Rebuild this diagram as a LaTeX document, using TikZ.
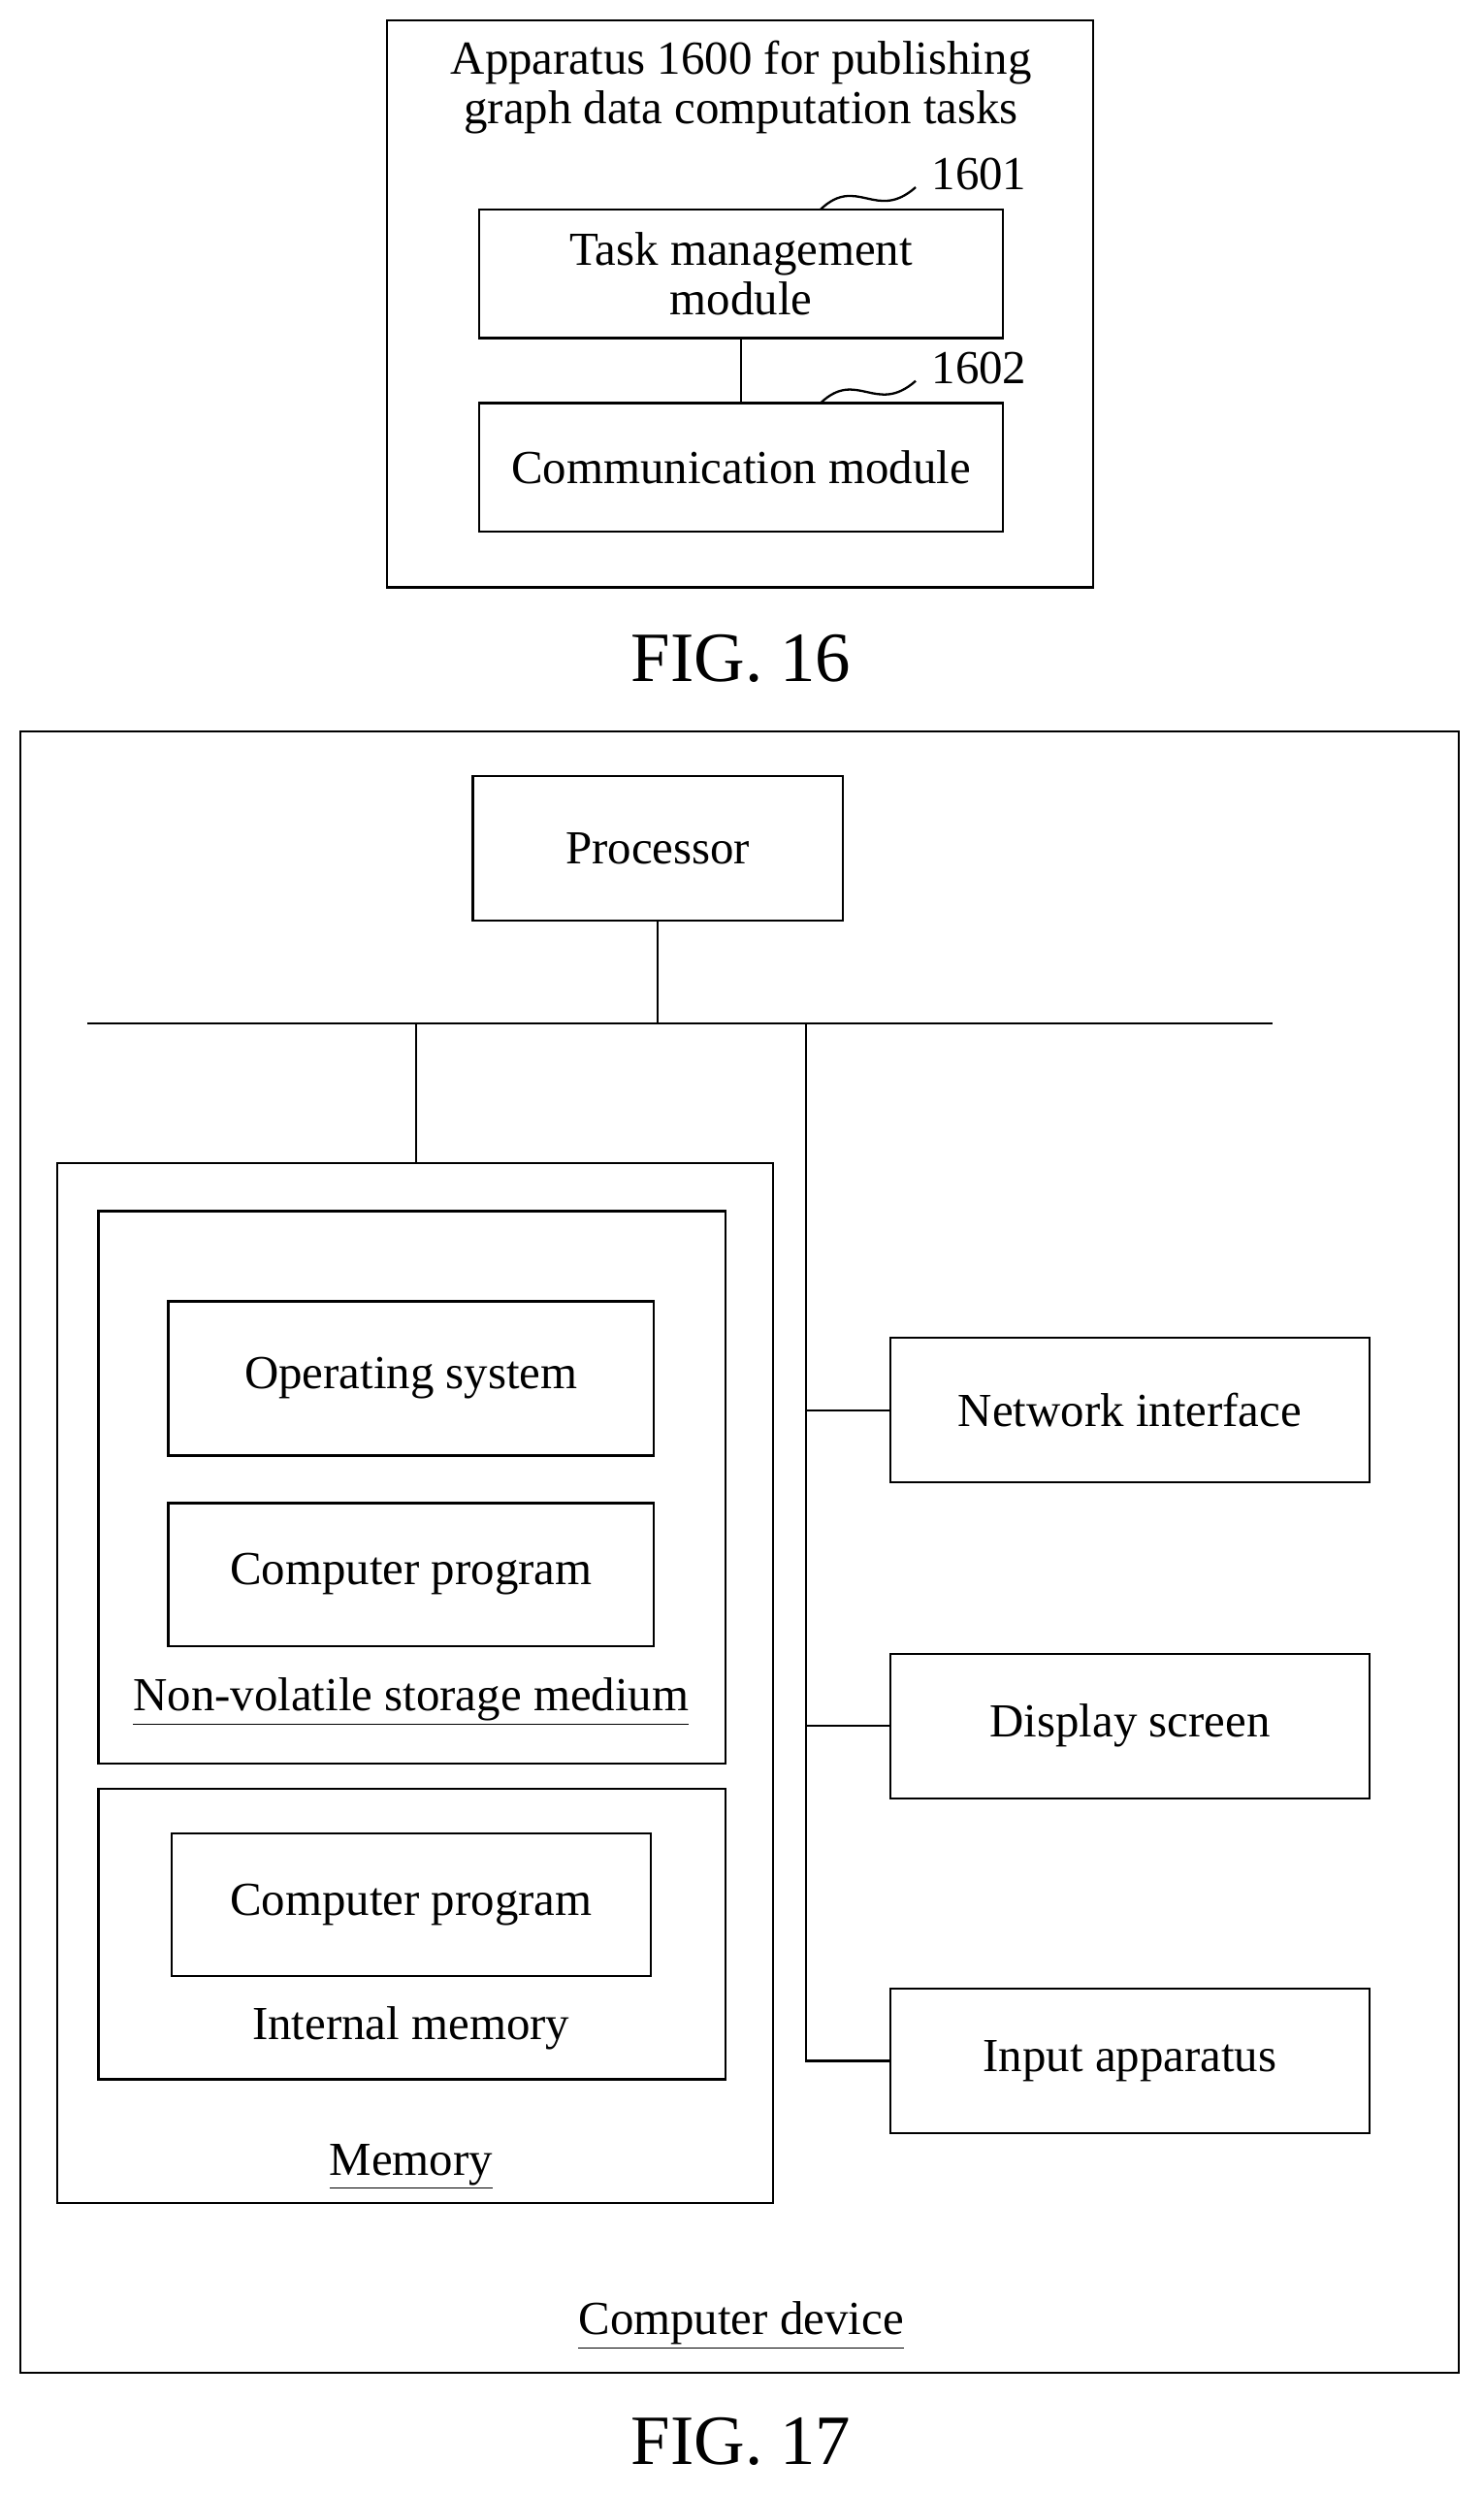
\documentclass[tikz,border=0pt]{standalone}
\usepackage{fontspec}
\setmainfont{Liberation Serif}
\usetikzlibrary{positioning}
\tikzset{
  box/.style={draw, line width=1.2pt, minimum width=#1, inner sep=0pt, align=center},
  txt/.style={inner sep=0pt, align=center},
  bus/.style={line width=1.2pt}
}
\begin{document}
\begin{tikzpicture}[x=0.03cm, y=-0.03cm, font=\fontsize{25.5}{27}\selectfont]
  \useasboundingbox (0,0) rectangle (935,1572);

  % FIG. 16
  \node[box=13.35cm, minimum height=10.71cm] (app) at (466.5,191.5) {};
  \node[txt] (apptitle) at (467,55) {Apparatus 1600 for publishing\\graph data computation tasks};
  \node[box=9.9cm, minimum height=2.43cm] (task) at (467,172.5) {Task management\\module};
  \node[box=9.9cm, minimum height=2.43cm] (comm) at (467,294.5) {Communication module};
  \draw[bus] (task) -- (comm);
  \node[txt] (n1601) at (617,110) {1601};
  \node[txt] (n1602) at (617,232) {1602};
  \coordinate (sqA) at (517,132);
  \coordinate (sqB) at (577,118);
  \coordinate (sqC) at (517,254);
  \coordinate (sqD) at (577,240);
  \draw[bus] (sqA) .. controls (540,110) and (552,140) .. (sqB);
  \draw[bus] (sqC) .. controls (540,232) and (552,262) .. (sqD);
  \node[txt, font=\fontsize{38}{40}\selectfont] (fig16) at (467,415) {FIG. 16};

  % FIG. 17
  \node[box=27.18cm, minimum height=31.02cm] (dev) at (466,978) {};
  \node[box=6.99cm, minimum height=2.73cm] (proc) at (414.5,534.5) {Processor};
  \coordinate (busL) at (55,645);
  \coordinate (busR) at (802,645);
  \draw[bus] (busL) -- (busR);
  \draw[bus] (proc.south) -- (proc.south |- busL);

  % Memory
  \node[box=13.53cm, minimum height=19.65cm] (mem) at (261.5,1060.5) {};
  \draw[bus] (mem.north -| 262,0) -- (262,645);
  \node[box=11.85cm, minimum height=10.44cm] (nvs) at (259.5,937) {};
  \node[box=9.18cm, minimum height=2.91cm] (os) at (259,868.5) {Operating system};
  \node[box=9.18cm, minimum height=2.7cm] (prog1) at (259,992) {Computer program};
  \node[txt] (nvslabel) at (259,1072) {\underline{Non-volatile storage medium}};
  \node[box=11.85cm, minimum height=5.49cm] (imem) at (259.5,1218.5) {};
  \node[box=9.06cm, minimum height=2.7cm] (prog2) at (259,1200) {Computer program};
  \node[txt] (imemlabel) at (259,1278) {Internal memory};
  \node[txt] (memlabel) at (259,1365) {\underline{Memory}};

  % Peripherals
  \node[box=9.06cm, minimum height=2.73cm] (net) at (712,888.5) {Network interface};
  \node[box=9.06cm, minimum height=2.73cm] (disp) at (712,1087.5) {Display screen};
  \node[box=9.06cm, minimum height=2.73cm] (inp) at (712,1298.5) {Input apparatus};
  \coordinate (vtop) at (508,645);
  \draw[bus] (vtop) |- (inp.west);
  \draw[bus] (vtop |- net.west) -- (net.west);
  \draw[bus] (vtop |- disp.west) -- (disp.west);

  \node[txt] (devlabel) at (467,1465) {\underline{Computer device}};
  \node[txt, font=\fontsize{38}{40}\selectfont] (fig17) at (467,1538) {FIG. 17};
\end{tikzpicture}
\end{document}
